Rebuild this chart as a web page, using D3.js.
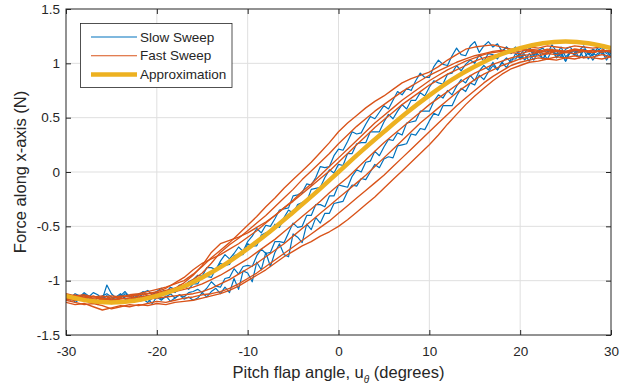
<!DOCTYPE html>
<html><head><meta charset="utf-8">
<script src="https://cdn.jsdelivr.net/npm/d3@7"></script>
<style>
body{margin:0;background:#fff}
svg{display:block}
text{font-family:"Liberation Sans",Arial,Helvetica,sans-serif;fill:#262626}
</style>
</head><body>
<svg id="chart" width="631" height="390"></svg>
<script>
// ---------- tick labels ----------
const xTicks = [-30, -20, -10, 0, 10, 20, 30];
const yTicks = [-1.5, -1, -0.5, 0, 0.5, 1, 1.5];
const seriesNames = ["Slow Sweep", "Fast Sweep", "Approximation"];

// ---------- angle grids (degrees) ----------
const xFast = [-30,-29,-28,-27,-26,-25,-24,-23,-22,-21,-20,-19,-18,-17,-16,-15,-14,-13,-12,-11,-10,-9,-8,-7,-6,-5,-4,-3,-2,-1,0,1,2,3,4,5,6,7,8,9,10,11,12,13,14,15,16,17,18,19,20,21,22,23,24,25,26,27,28,29,30];
const xSlow = [-30,-29.5,-29,-28.5,-28,-27.5,-27,-26.5,-26,-25.5,-25,-24.5,-24,-23.5,-23,-22.5,-22,-21.5,-21,-20.5,-20,-19.5,-19,-18.5,-18,-17.5,-17,-16.5,-16,
 -15.5,-15,-14.5,-14,-13.5,-13,-12.5,-12,-11.5,-11,-10.5,-10,
 -9.5,-9,-8.5,-8,-7.5,-7,-6.5,-6,-5.5,-5,-4.5,-4,
 -3.5,-3,-2.5,-2,-1.5,-1,-0.5,0,0.5,1,1.5,2,
 2.5,3,3.5,4,4.5,5,5.5,6,6.5,7,7.5,8,
 8.5,9,9.5,10,10.5,11,11.5,12,12.5,13,13.5,14,
 14.5,15,15.5,16,16.5,17,17.5,18,18.5,19,19.5,20,
 20.5,21,21.5,22,22.5,23,23.5,24,24.5,25,25.5,26,
 26.5,27,27.5,28,28.5,29,29.5,30];

// ---------- slow sweep (force, N) ----------
const slow1 = [-1.13,-1.16,-1.12,-1.14,-1.19,-1.15,-1.11,-1.13,-1.17,-1.04,-1.12,-1.16,-1.14,-1.10,-1.15,-1.13,-1.17,-1.11,-1.09,-1.13,-1.10,-1.07,-1.11,-1.06,-1.08,-1.04,-1.05,-1.01,-0.99,
 -0.95,-0.96,-0.88,-0.88,-0.90,-0.82,-0.76,-0.80,-0.75,-0.69,-0.73,-0.64,
 -0.59,-0.52,-0.56,-0.49,-0.50,-0.43,-0.35,-0.34,-0.33,-0.22,-0.21,-0.19,
 -0.11,-0.12,-0.05,0.05,0.04,0.05,0.15,0.21,0.20,0.28,0.37,0.35,
 0.36,0.44,0.51,0.49,0.55,0.61,0.58,0.66,0.74,0.71,0.77,0.75,
 0.84,0.91,0.87,0.87,0.97,1.03,0.99,0.98,1.07,1.14,1.08,1.07,
 1.16,1.20,1.10,1.16,1.20,1.15,1.18,1.11,1.15,1.11,1.15,1.08,
 1.13,1.16,1.07,1.12,1.14,1.09,1.17,1.11,1.06,1.13,1.15,1.10,
 1.12,1.16,1.08,1.13,1.11,1.15,1.09,1.12];
const slow2 = [-1.16,-1.13,-1.18,-1.15,-1.11,-1.14,-1.17,-1.20,-1.14,-1.12,-1.15,-1.19,-1.16,-1.12,-1.14,-1.18,-1.13,-1.10,-1.15,-1.13,-1.10,-1.14,-1.12,-1.08,-1.11,-1.07,-1.05,-1.08,-1.03,
 -1.03,-0.95,-0.96,-0.97,-0.89,-0.84,-0.86,-0.85,-0.77,-0.76,-0.76,-0.66,
 -0.68,-0.68,-0.58,-0.56,-0.56,-0.48,-0.51,-0.42,-0.35,-0.38,-0.30,-0.28,
 -0.27,-0.16,-0.15,-0.14,-0.05,0.02,-0.01,0.07,0.06,0.17,0.17,0.26,
 0.27,0.27,0.37,0.37,0.37,0.46,0.53,0.49,0.56,0.62,0.58,0.66,
 0.66,0.73,0.70,0.78,0.84,0.82,0.81,0.90,0.91,0.98,0.93,0.99,
 1.03,1.00,1.08,1.02,1.09,1.08,1.04,1.11,1.15,1.09,1.13,1.05,
 1.10,1.14,1.07,1.12,1.04,1.11,1.13,1.08,1.15,1.06,1.10,1.12,
 1.05,1.13,1.11,1.07,1.14,1.09,1.12,1.06];
const slow3 = [-1.15,-1.18,-1.14,-1.17,-1.13,-1.19,-1.21,-1.15,-1.17,-1.14,-1.20,-1.18,-1.13,-1.16,-1.19,-1.14,-1.12,-1.17,-1.20,-1.16,-1.13,-1.17,-1.15,-1.12,-1.16,-1.13,-1.15,-1.11,-1.10,
 -1.08,-1.11,-1.07,-1.01,-1.05,-1.06,-0.98,-0.97,-0.89,-0.94,-0.87,-0.86,
 -0.87,-0.77,-0.71,-0.75,-0.74,-0.64,-0.64,-0.65,-0.56,-0.47,-0.51,-0.50,
 -0.40,-0.40,-0.30,-0.30,-0.32,-0.22,-0.22,-0.12,-0.13,-0.14,-0.04,0.02,
 0.00,0.09,0.10,0.19,0.15,0.23,0.30,0.29,0.36,0.34,0.45,0.46,
 0.47,0.56,0.56,0.56,0.65,0.71,0.68,0.75,0.71,0.79,0.85,0.82,
 0.89,0.84,0.93,0.98,0.94,1.01,0.94,1.01,1.05,1.01,1.09,1.04,
 1.08,1.02,1.11,1.08,1.04,1.10,1.13,1.05,1.09,1.02,1.11,1.08,
 1.06,1.12,1.04,1.09,1.07,1.11,1.03,1.10];
const slow4 = [-1.18,-1.15,-1.20,-1.17,-1.12,-1.16,-1.19,-1.22,-1.16,-1.14,-1.18,-1.15,-1.12,-1.17,-1.20,-1.16,-1.19,-1.14,-1.17,-1.21,-1.15,-1.18,-1.14,-1.19,-1.16,-1.13,-1.17,-1.15,-1.18,
 -1.16,-1.11,-1.15,-1.10,-1.07,-1.12,-1.06,-1.11,-0.98,-1.08,-0.91,-0.93,
 -1.01,-0.83,-0.90,-0.74,-0.87,-0.74,-0.66,-0.76,-0.78,-0.57,-0.60,-0.65,
 -0.48,-0.53,-0.42,-0.47,-0.38,-0.38,-0.29,-0.28,-0.27,-0.18,-0.12,-0.13,
 -0.06,-0.07,0.00,0.07,0.04,0.12,0.14,0.13,0.24,0.25,0.26,0.35,
 0.34,0.40,0.39,0.47,0.54,0.52,0.61,0.61,0.61,0.70,0.77,0.74,
 0.82,0.80,0.89,0.85,0.92,0.98,0.94,1.01,0.96,1.04,1.04,1.09,
 1.03,1.09,1.03,1.11,1.09,1.04,1.12,1.06,1.11,1.02,1.10,1.08,
 1.12,1.05,1.10,1.03,1.09,1.11,1.06,1.12];

// ---------- fast sweep (force, N) ----------
const fast1 = [-1.13,-1.15,-1.14,-1.16,-1.15,-1.14,-1.15,-1.13,-1.12,-1.10,-1.08,-1.06,-1.03,
 -1.00,-0.94,-0.87,-0.79,-0.72,-0.65,-0.57,-0.49,-0.41,-0.32,-0.24,-0.15,-0.07,0.01,0.09,0.18,0.27,
 0.37,0.45,0.52,0.59,0.65,0.70,0.76,0.82,0.86,0.89,0.92,
 0.97,1.03,1.08,1.13,1.15,1.16,1.17,1.15,1.13,1.14,
 1.15,1.14,1.16,1.15,1.14,1.16,1.15,1.14,1.15,1.13];
const fast2 = [-1.15,-1.13,-1.16,-1.14,-1.17,-1.16,-1.14,-1.15,-1.13,-1.12,-1.11,-1.09,-1.07,
 -1.04,-0.99,-0.93,-0.84,-0.74,-0.67,-0.61,-0.54,-0.47,-0.40,-0.32,-0.24,-0.16,-0.07,0.01,0.09,0.17,
 0.26,0.34,0.42,0.49,0.56,0.62,0.68,0.74,0.79,0.84,0.89,
 0.93,0.97,1.01,1.04,1.07,1.09,1.11,1.12,1.11,1.13,
 1.12,1.11,1.13,1.12,1.11,1.13,1.12,1.10,1.12,1.11];
const fast3 = [-1.17,-1.18,-1.16,-1.19,-1.17,-1.18,-1.16,-1.17,-1.15,-1.14,-1.12,-1.10,-1.07,
 -1.02,-0.95,-0.86,-0.74,-0.66,-0.63,-0.60,-0.56,-0.51,-0.46,-0.40,-0.33,-0.27,-0.20,-0.13,-0.06,0.01,
 0.09,0.17,0.25,0.33,0.41,0.48,0.55,0.62,0.68,0.74,0.80,
 0.85,0.90,0.94,0.98,1.02,1.05,1.07,1.09,1.10,1.09,
 1.11,1.10,1.12,1.11,1.10,1.12,1.11,1.12,1.10,1.12];
const fast4 = [-1.12,-1.14,-1.13,-1.15,-1.14,-1.16,-1.15,-1.14,-1.13,-1.12,-1.10,-1.07,-1.02,
 -0.97,-0.90,-0.84,-0.80,-0.76,-0.71,-0.66,-0.60,-0.54,-0.47,-0.40,-0.33,-0.26,-0.18,-0.11,-0.03,0.05,
 0.13,0.21,0.29,0.37,0.45,0.52,0.59,0.66,0.72,0.78,0.84,
 0.89,0.94,0.98,1.02,1.05,1.08,1.10,1.11,1.12,1.11,
 1.13,1.12,1.10,1.12,1.11,1.13,1.12,1.10,1.12,1.11];
const fast5 = [-1.14,-1.16,-1.15,-1.17,-1.16,-1.18,-1.17,-1.16,-1.15,-1.14,-1.13,-1.12,-1.10,
 -1.08,-1.06,-1.03,-0.99,-0.95,-0.90,-0.85,-0.80,-0.74,-0.68,-0.62,-0.55,-0.48,-0.41,-0.34,-0.27,-0.19,
 -0.12,-0.05,0.03,0.11,0.19,0.27,0.34,0.41,0.48,0.55,0.62,
 0.68,0.74,0.80,0.86,0.91,0.95,0.99,1.02,1.05,1.07,
 1.08,1.10,1.09,1.11,1.10,1.12,1.11,1.10,1.12,1.11];
const fast6 = [-1.16,-1.18,-1.17,-1.20,-1.19,-1.21,-1.20,-1.18,-1.19,-1.17,-1.16,-1.15,-1.14,
 -1.13,-1.12,-1.10,-1.07,-1.03,-0.99,-0.94,-0.89,-0.84,-0.78,-0.72,-0.66,-0.59,-0.52,-0.45,-0.38,-0.31,
 -0.24,-0.17,-0.10,-0.03,0.05,0.13,0.21,0.29,0.37,0.45,0.52,
 0.59,0.66,0.73,0.79,0.85,0.90,0.94,0.98,1.01,1.04,
 1.06,1.07,1.09,1.08,1.10,1.09,1.11,1.10,1.12,1.10];
const fast7 = [-1.18,-1.20,-1.22,-1.21,-1.23,-1.26,-1.24,-1.22,-1.23,-1.21,-1.19,-1.20,-1.18,
 -1.16,-1.15,-1.13,-1.12,-1.10,-1.07,-1.03,-0.98,-0.93,-0.87,-0.81,-0.75,-0.69,-0.63,-0.57,-0.51,-0.45,
 -0.38,-0.31,-0.24,-0.17,-0.10,-0.03,0.05,0.13,0.21,0.29,0.37,
 0.45,0.53,0.61,0.68,0.75,0.82,0.88,0.93,0.98,1.01,
 1.03,1.05,1.04,1.06,1.05,1.07,1.05,1.06,1.08,1.06];
const fast8 = [-1.20,-1.22,-1.21,-1.24,-1.27,-1.25,-1.23,-1.24,-1.22,-1.23,-1.21,-1.22,-1.20,
 -1.19,-1.18,-1.16,-1.14,-1.12,-1.09,-1.05,-1.00,-0.95,-0.90,-0.84,-0.78,-0.73,-0.68,-0.64,-0.59,-0.55,
 -0.50,-0.44,-0.37,-0.30,-0.23,-0.15,-0.07,0.01,0.09,0.17,0.25,
 0.34,0.44,0.53,0.62,0.70,0.77,0.84,0.90,0.95,0.98,
 1.01,1.02,1.04,1.03,1.05,1.04,1.06,1.05,1.04,1.06];

// ---------- approximation ----------
const approxX = [-30,-27.5,-25,-22.5,-20,-17.5,-15,-12.5,-10,-7.5,-5,-2.5,0,2.5,5,7.5,10,12.5,15,17.5,20,22.5,25,27.5,30];
const approxY = [-1.14,-1.185,-1.2,-1.185,-1.14,-1.07,-0.97,-0.85,-0.705,-0.545,-0.37,-0.19,0,0.19,0.37,0.545,0.705,0.85,0.97,1.07,1.14,1.185,1.2,1.185,1.14];

const slowSeries = [slow1, slow2, slow3, slow4];
const fastSeries = [fast1, fast2, fast3, fast4, fast5, fast6, fast7, fast8];

// ---------- drawing ----------
const C_SLOW = "#0072BD", C_FAST = "#D95319", C_APPROX = "#EDB120", AX = "#262626";
const svg = d3.select("#chart");
const L = 66, R = 611, T = 9, B = 335;
const x = d3.scaleLinear().domain([-30, 30]).range([L, R]);
const y = d3.scaleLinear().domain([-1.5, 1.5]).range([B, T]);

svg.append("rect").attr("width", 631).attr("height", 390).attr("fill", "#fff");

// grid
const grid = svg.append("g").attr("stroke", "#dfdfdf").attr("stroke-width", 1);
grid.selectAll(".gx").data(xTicks.slice(1, -1)).join("line")
  .attr("x1", d => x(d)).attr("x2", d => x(d)).attr("y1", T).attr("y2", B);
grid.selectAll(".gy").data(yTicks.slice(1, -1)).join("line")
  .attr("y1", d => y(d)).attr("y2", d => y(d)).attr("x1", L).attr("x2", R);

// clip
svg.append("defs").append("clipPath").attr("id", "plotclip")
  .append("rect").attr("x", L).attr("y", T).attr("width", R - L).attr("height", B - T);
const plot = svg.append("g").attr("clip-path", "url(#plotclip)");

const lineOf = xs => d3.line().defined((d, i) => xs[i] !== undefined && d !== undefined)
  .x((d, i) => x(xs[i])).y(d => y(d));

plot.selectAll(".slow").data(slowSeries).join("path")
  .attr("fill", "none").attr("stroke", C_SLOW).attr("stroke-width", 1.2)
  .attr("stroke-linejoin", "round").attr("d", lineOf(xSlow));

plot.selectAll(".fast").data(fastSeries).join("path")
  .attr("fill", "none").attr("stroke", C_FAST).attr("stroke-width", 1.35)
  .attr("stroke-linejoin", "round").attr("d", lineOf(xFast));

plot.append("path").datum(approxY)
  .attr("fill", "none").attr("stroke", C_APPROX).attr("stroke-width", 4.5)
  .attr("d", d3.line().curve(d3.curveCatmullRom).x((d, i) => x(approxX[i])).y(d => y(d)));

// axes
const fmt = d => String(d);
const styleAxis = g => {
  g.select(".domain").remove();
  g.selectAll(".tick line").attr("stroke", AX);
  g.selectAll(".tick text").attr("fill", AX).style("font-size", "13.5px")
    .style("font-family", '"Liberation Sans",Arial,Helvetica,sans-serif');
};
svg.append("g").attr("transform", `translate(0,${B})`)
  .call(d3.axisBottom(x).tickValues(xTicks).tickSize(-5).tickPadding(11).tickFormat(fmt)).call(styleAxis);
svg.append("g").attr("transform", `translate(0,${T})`)
  .call(d3.axisTop(x).tickValues(xTicks).tickSize(-5).tickFormat("")).call(styleAxis);
svg.append("g").attr("transform", `translate(${L},0)`)
  .call(d3.axisLeft(y).tickValues(yTicks).tickSize(-5).tickPadding(6).tickFormat(fmt)).call(styleAxis);
svg.append("g").attr("transform", `translate(${R},0)`)
  .call(d3.axisRight(y).tickValues(yTicks).tickSize(-5).tickFormat("")).call(styleAxis);

svg.append("rect").attr("x", L).attr("y", T).attr("width", R - L).attr("height", B - T)
  .attr("fill", "none").attr("stroke", AX).attr("stroke-width", 1);

// axis labels
const xl = svg.append("text").attr("x", (L + R) / 2).attr("y", 378)
  .attr("text-anchor", "middle").style("font-size", "16.5px");
xl.append("tspan").text("Pitch flap angle, u");
xl.append("tspan").attr("dy", 5).style("font-size", "10px").style("font-style", "italic").text("θ");
xl.append("tspan").attr("dy", -5).text(" (degrees)");

svg.append("text").attr("transform", `translate(20,${(T + B) / 2}) rotate(-90)`)
  .attr("text-anchor", "middle").attr("dy", "0.35em").style("font-size", "16.5px")
  .text("Force along x-axis (N)");

// legend
const lg = svg.append("g");
lg.append("rect").attr("x", 80.5).attr("y", 23.5).attr("width", 151.5).attr("height", 64)
  .attr("fill", "#fff").attr("stroke", AX).attr("stroke-width", 0.8);
const legendItems = [
  {name: seriesNames[0], color: C_SLOW, w: 1.2},
  {name: seriesNames[1], color: C_FAST, w: 1.1},
  {name: seriesNames[2], color: C_APPROX, w: 4.5}
];
const rowY = [37, 55.7, 74.5];
legendItems.forEach((it, i) => {
  lg.append("line").attr("x1", 91).attr("x2", 137).attr("y1", rowY[i]).attr("y2", rowY[i])
    .attr("stroke", it.color).attr("stroke-width", it.w);
  lg.append("text").attr("x", 140).attr("y", rowY[i]).attr("dy", "0.35em")
    .style("font-size", "13.5px").text(it.name);
});
</script>
</body></html>
